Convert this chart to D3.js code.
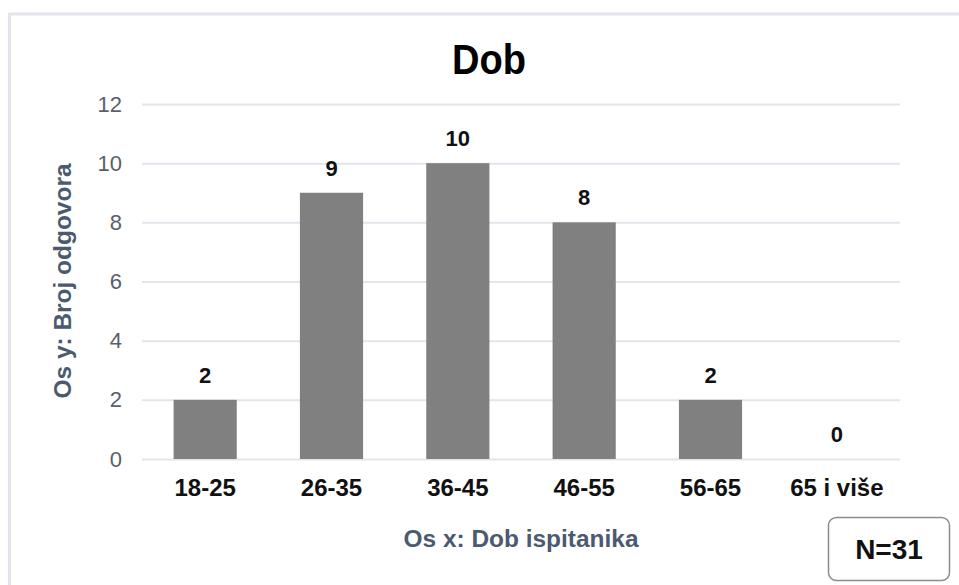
<!DOCTYPE html>
<html>
<head>
<meta charset="utf-8">
<script src="https://cdn.jsdelivr.net/npm/d3@7"></script>
<style>
  html, body { margin: 0; padding: 0; background: #ffffff; }
  svg { display: block; font-family: "Liberation Sans", Arial, sans-serif; }
</style>
</head>
<body>
<svg id="chart" width="959" height="585"></svg>
<script>
const categories = ["18-25", "26-35", "36-45", "46-55", "56-65", "65 i više"];
const values = [2, 9, 10, 8, 2, 0];
const yTicks = [0, 2, 4, 6, 8, 10, 12];
const titleText = "Dob";
const xTitle = "Os x: Dob ispitanika";
const yTitle = "Os y: Broj odgovora";
const nText = "N=31";

const svg = d3.select("#chart");

// outer frame (extends past right and bottom edges)
svg.append("rect")
  .attr("x", 9.5).attr("y", 14)
  .attr("width", 1000).attr("height", 1000)
  .attr("fill", "none")
  .attr("stroke", "#e2e6ec")
  .attr("stroke-width", 3);

const x = d3.scaleBand().domain(categories).range([142, 900]).paddingInner(0.5).paddingOuter(0.25);
const y = d3.scaleLinear().domain([0, 12]).range([459, 104]);

// gridlines via axis
const yAxis = d3.axisLeft(y).tickValues(yTicks).tickSize(-(900 - 142)).tickPadding(20);
const gy = svg.append("g").attr("transform", "translate(142,0)").call(yAxis);
gy.select(".domain").remove();
gy.selectAll(".tick line").attr("stroke", "#e1e5ec").attr("stroke-width", 2);
gy.selectAll(".tick text")
  .attr("fill", "#5a606c")
  .attr("font-size", 22)
  .attr("font-family", "'Liberation Sans', Arial, sans-serif");

// x axis labels
const xAxis = d3.axisBottom(x).tickSize(0).tickPadding(20);
const gx = svg.append("g").attr("transform", "translate(0,459)").call(xAxis);
gx.select(".domain").remove();
gx.selectAll(".tick text")
  .attr("fill", "#111")
  .attr("font-size", 24)
  .attr("font-weight", "bold")
  .attr("font-family", "'Liberation Sans', Arial, sans-serif");

// bars
svg.append("g").selectAll("rect")
  .data(categories.map((c, i) => ({c, v: values[i]})))
  .join("rect")
  .attr("x", d => x(d.c))
  .attr("width", x.bandwidth())
  .attr("y", d => y(d.v))
  .attr("height", d => y(0) - y(d.v))
  .attr("fill", "#808080");

// data labels
svg.append("g").selectAll("text")
  .data(categories.map((c, i) => ({c, v: values[i]})))
  .join("text")
  .attr("x", d => x(d.c) + x.bandwidth() / 2)
  .attr("y", d => y(d.v) - 17)
  .attr("text-anchor", "middle")
  .attr("font-size", 22)
  .attr("font-weight", "bold")
  .attr("fill", "#111")
  .text(d => d.v);

// title
svg.append("text")
  .attr("x", 489).attr("y", 74)
  .attr("text-anchor", "middle")
  .attr("font-size", 42)
  .attr("font-weight", "bold")
  .attr("fill", "#000")
  .attr("textLength", 74)
  .attr("lengthAdjust", "spacingAndGlyphs")
  .text(titleText);

// x axis title
svg.append("text")
  .attr("x", 521).attr("y", 547)
  .attr("text-anchor", "middle")
  .attr("font-size", 23)
  .attr("font-weight", "bold")
  .attr("fill", "#4b5a70")
  .attr("textLength", 235)
  .attr("lengthAdjust", "spacingAndGlyphs")
  .text(xTitle);

// y axis title
svg.append("text")
  .attr("transform", "translate(71,281) rotate(-90)")
  .attr("text-anchor", "middle")
  .attr("font-size", 23)
  .attr("font-weight", "bold")
  .attr("fill", "#4b5a70")
  .attr("textLength", 235)
  .attr("lengthAdjust", "spacingAndGlyphs")
  .text(yTitle);

// N box
svg.append("rect")
  .attr("x", 828.5).attr("y", 517.5)
  .attr("width", 121).attr("height", 63)
  .attr("rx", 8).attr("ry", 8)
  .attr("fill", "#fff")
  .attr("stroke", "#8c8c8c")
  .attr("stroke-width", 1.5);
svg.append("text")
  .attr("x", 889).attr("y", 559)
  .attr("text-anchor", "middle")
  .attr("font-size", 28)
  .attr("font-weight", "bold")
  .attr("fill", "#111")
  .text(nText);
</script>
</body>
</html>
